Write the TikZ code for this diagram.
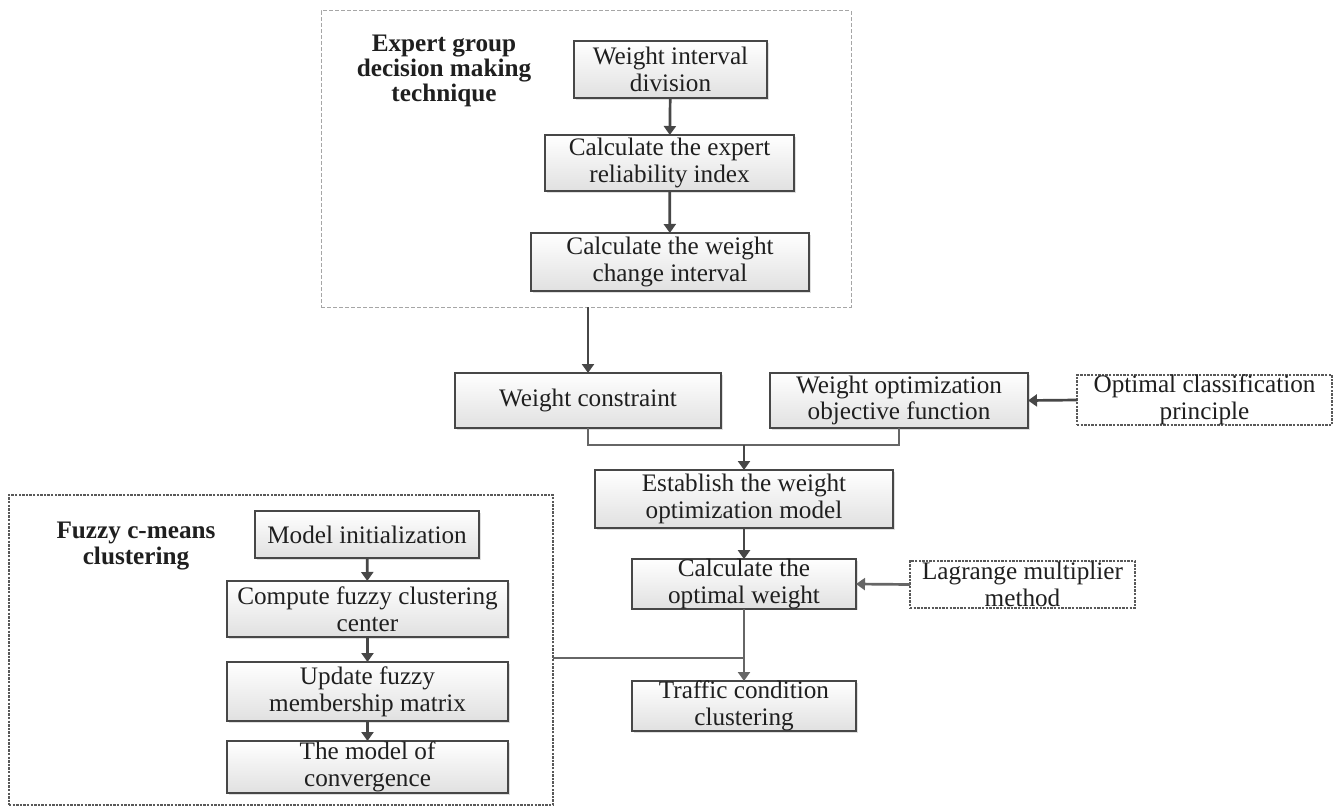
\documentclass[tikz,border=0pt]{standalone}
\usepackage{fontspec}
\setmainfont{Liberation Serif}
\usetikzlibrary{arrows.meta,shadows}
\begin{document}
\begin{tikzpicture}[x=0.5pt,y=-0.5pt,
  font=\fontsize{12.6}{13.4}\selectfont,
  every node/.style={inner sep=0pt,outer sep=0pt,text=black!88},
  procbox/.style={rectangle,draw=black!72,line width=1.25pt,
    top color=white,bottom color=black!12,align=center,
    drop shadow={shadow xshift=0.8pt,shadow yshift=-0.8pt,opacity=0.25}},
  inputbox/.style={rectangle,draw=black!65,line width=0.7pt,
    dash pattern=on 1.2pt off 0.6pt,fill=white,align=center},
  groupbox/.style={rectangle,draw=black!35,line width=0.5pt,
    dash pattern=on 2pt off 1pt},
  fuzzybox/.style={rectangle,draw=black!65,line width=0.7pt,
    dash pattern=on 1.2pt off 0.6pt},
  grouptitle/.style={align=center,font=\fontsize{12.6}{12.6}\selectfont\bfseries},
  flow/.style={draw=black!72,line width=1.35pt,-{Triangle[length=4.5pt,width=6pt]}},
  link/.style={draw=black!60,line width=1.35pt},
  linkarrow/.style={draw=black!60,line width=1.35pt,-{Triangle[length=4.5pt,width=6pt]}}
]
\useasboundingbox (0,0) rectangle (1338,808);

% group frames
\node[groupbox,minimum width=265pt,minimum height=148pt] (expert) at (586,159) {};
\node[fuzzybox,minimum width=272pt,minimum height=155pt] (fuzzy) at (281,650) {};

\node[grouptitle] (experttitle) at (444,71) {Expert group\\decision making\\technique};
\node[grouptitle] (fuzzytitle) at (136,546) {Fuzzy c-means\\clustering};

% expert group decision making steps
\node[procbox,minimum width=96.5pt,minimum height=28.5pt] (wid) at (670.5,69.5) {Weight interval\\division};
\node[procbox,minimum width=124.5pt,minimum height=28pt] (rel) at (669.5,163) {Calculate the expert\\reliability index};
\node[procbox,minimum width=139pt,minimum height=29pt] (chg) at (670,262) {Calculate the weight\\change interval};

% optimisation steps
\node[procbox,minimum width=133pt,minimum height=27.5pt] (wc) at (588,400.5) {Weight constraint};
\node[procbox,minimum width=129pt,minimum height=27.5pt] (wo) at (899,400.5) {Weight optimization\\objective function};
\node[inputbox,minimum width=127.5pt,minimum height=23pt] (ocp) at (1204.5,400) {Optimal classification\\principle};
\node[procbox,minimum width=149pt,minimum height=29pt] (est) at (744,499) {Establish the weight\\optimization model};
\node[procbox,minimum width=112pt,minimum height=24pt] (cow) at (744,584) {Calculate the\\optimal weight};
\node[inputbox,minimum width=112.5pt,minimum height=23.5pt] (lag) at (1022.5,584.5) {Lagrange multiplier\\method};
\node[procbox,minimum width=112pt,minimum height=24pt] (tcc) at (744,706) {Traffic condition\\clustering};

% fuzzy c-means steps
\node[procbox,minimum width=112pt,minimum height=23.5pt] (mi) at (367,534.5) {Model initialization};
\node[procbox,minimum width=140.5pt,minimum height=28pt] (cfc) at (367.5,609) {Compute fuzzy clustering\\center};
\node[procbox,minimum width=140.5pt,minimum height=29.5pt] (ufm) at (367.5,691.5) {Update fuzzy\\membership matrix};
\node[procbox,minimum width=140.5pt,minimum height=26pt] (moc) at (367.5,767) {The model of\\convergence};

% connectors
\draw[flow] (wid) -- (rel);
\draw[flow] (rel) -- (chg);
\draw[flow] (expert.south -| wc.north) -- (wc.north);

\coordinate (join) at (744,445);
\draw[link] (wc.south) |- (join) -| (wo.south);
\draw[flow] (join) -- (est.north);
\draw[flow] (ocp.west) -- (wo.east);
\draw[flow] (est) -- (cow);
\draw[linkarrow] (lag.west) -- (cow.east);

\coordinate (merge) at (744,658);
\draw[linkarrow] (cow.south) -- (tcc.north);
\draw[link] (fuzzy.east |- merge) -- (merge);

\draw[flow] (mi) -- (cfc);
\draw[flow] (cfc) -- (ufm);
\draw[flow] (ufm) -- (moc);
\end{tikzpicture}
\end{document}
